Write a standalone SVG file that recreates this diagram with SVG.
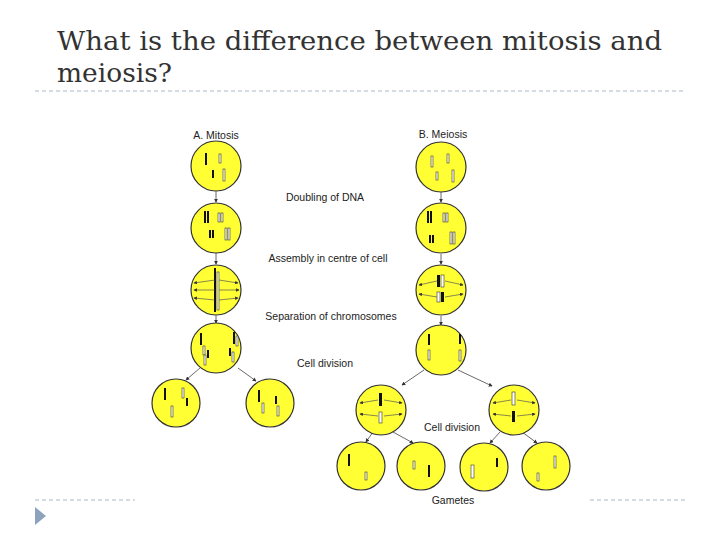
<svg xmlns="http://www.w3.org/2000/svg" width="720" height="540" viewBox="0 0 720 540">
<defs>
<marker id="ah" viewBox="0 0 6 6" refX="5" refY="3" markerWidth="5" markerHeight="5" orient="auto"><path d="M0,0 L6,3 L0,6 z" fill="#333"/></marker>
<style>
.cell{fill:#ffff33;stroke:#333;stroke-width:1.2}
.lb{font-family:"Liberation Sans",Arial,sans-serif;font-size:10.5px;fill:#222;text-anchor:middle}
.cn{stroke:#444;stroke-width:0.8;fill:none;marker-end:url(#ah)}
.sp{stroke:#555;stroke-width:0.7;fill:none;marker-end:url(#ah)}
.kb{fill:#111}
.kw{fill:#fff;stroke:#333;stroke-width:0.6}
.dash{stroke:#a9b7c6;stroke-width:1;stroke-dasharray:4,3}
</style>
</defs>
<rect width="720" height="540" fill="#fff"/>
<text x="57" y="50" font-family="DejaVu Serif,serif" font-size="26" fill="#333" textLength="605" lengthAdjust="spacingAndGlyphs">What is the difference between mitosis and</text>
<text x="57" y="82" font-family="DejaVu Serif,serif" font-size="26" fill="#333" textLength="115" lengthAdjust="spacingAndGlyphs">meiosis?</text>
<line class="dash" x1="35" y1="91" x2="685" y2="91"/>
<line class="dash" x1="35" y1="500" x2="135" y2="500"/>
<line class="dash" x1="590" y1="500" x2="685" y2="500"/>
<path d="M35,507 L46,516 L35,525 z" fill="#8da3bd"/>

<text class="lb" x="216" y="139">A. Mitosis</text>
<text class="lb" x="443" y="138">B. Meiosis</text>
<text class="lb" x="325" y="201">Doubling of DNA</text>
<text class="lb" x="328" y="262">Assembly in centre of cell</text>
<text class="lb" x="331" y="320">Separation of chromosomes</text>
<text class="lb" x="325" y="367">Cell division</text>
<text class="lb" x="452" y="431">Cell division</text>
<text class="lb" x="453" y="504">Gametes</text>

<g id="connectors">
<line class="cn" x1="216" y1="191" x2="216" y2="202"/>
<line class="cn" x1="216" y1="253" x2="216" y2="264"/>
<line class="cn" x1="216" y1="315" x2="216" y2="323"/>
<line class="cn" x1="200" y1="368" x2="186" y2="380"/>
<line class="cn" x1="238" y1="368" x2="256" y2="381"/>
<line class="cn" x1="441" y1="192" x2="441" y2="202"/>
<line class="cn" x1="441" y1="254" x2="441" y2="264"/>
<line class="cn" x1="441" y1="316" x2="441" y2="325"/>
<line class="cn" x1="424" y1="370" x2="402" y2="385"/>
<line class="cn" x1="458" y1="370" x2="492" y2="386"/>
<line class="cn" x1="373" y1="432" x2="366" y2="442"/>
<line class="cn" x1="393" y1="432" x2="413" y2="443"/>
<line class="cn" x1="500" y1="432" x2="490" y2="443"/>
<line class="cn" x1="522" y1="432" x2="537" y2="443"/>
</g>

<g id="m1"><circle class="cell" cx="216" cy="166" r="25"/><rect class="kb" x="205" y="153" width="2" height="12"/><rect class="kw" x="219" y="154" width="2" height="9"/><rect class="kb" x="212" y="170" width="2" height="8"/><rect class="kw" x="223" y="169" width="2" height="12"/></g>
<g id="m2"><circle class="cell" cx="216" cy="228" r="25"/><rect class="kb" x="204" y="211" width="2" height="12"/><rect class="kb" x="207" y="211" width="2" height="12"/><rect class="kw" x="218" y="213" width="2" height="9"/><rect class="kw" x="221" y="213" width="2" height="9"/><rect class="kb" x="209" y="230" width="2" height="8"/><rect class="kb" x="212" y="230" width="2" height="8"/><rect class="kw" x="225" y="228" width="2" height="12"/><rect class="kw" x="228" y="228" width="2" height="12"/></g>
<g id="m3"><circle class="cell" cx="216" cy="290" r="25"/><rect class="kb" x="214" y="268" width="2" height="44"/><rect class="kw" x="217" y="272" width="2" height="38"/><line class="sp" x1="215" y1="280" x2="194" y2="283"/><line class="sp" x1="215" y1="290" x2="194" y2="290"/><line class="sp" x1="215" y1="300" x2="194" y2="298"/><line class="sp" x1="219" y1="280" x2="238" y2="283"/><line class="sp" x1="219" y1="290" x2="239" y2="290"/><line class="sp" x1="219" y1="300" x2="238" y2="298"/></g>
<g id="m4"><circle class="cell" cx="216" cy="348" r="25"/><rect class="kb" x="200" y="333" width="2" height="12"/><rect class="kw" x="203" y="346" width="2" height="9"/><rect class="kb" x="207" y="350" width="2" height="8"/><rect class="kw" x="204" y="355" width="2" height="10"/><rect class="kb" x="233" y="332" width="2" height="12"/><rect class="kw" x="236" y="336" width="2" height="10"/><rect class="kb" x="229" y="348" width="2" height="8"/><rect class="kw" x="232" y="352" width="2" height="10"/></g>
<g id="m5"><circle class="cell" cx="176" cy="403" r="24"/><rect class="kb" x="164" y="388" width="2" height="12"/><rect class="kw" x="182" y="388" width="2" height="10"/><rect class="kb" x="186" y="398" width="2" height="8"/><rect class="kw" x="171" y="406" width="2" height="11"/></g>
<g id="m6"><circle class="cell" cx="270" cy="403" r="24"/><rect class="kb" x="258" y="390" width="2" height="12"/><rect class="kw" x="262" y="403" width="2" height="10"/><rect class="kb" x="275" y="396" width="2" height="8"/><rect class="kw" x="277" y="406" width="2" height="10"/></g>

<g id="e1"><circle class="cell" cx="441" cy="167" r="25"/><rect class="kw" x="431" y="156" width="2" height="11"/><rect class="kw" x="447" y="154" width="2" height="9"/><rect class="kw" x="436" y="172" width="2" height="8"/><rect class="kw" x="452" y="170" width="2" height="12"/></g>
<g id="e2"><circle class="cell" cx="441" cy="228" r="25"/><rect class="kb" x="427" y="211" width="2" height="12"/><rect class="kb" x="430" y="211" width="2" height="12"/><rect class="kw" x="443" y="213" width="2" height="9"/><rect class="kw" x="446" y="213" width="2" height="9"/><rect class="kb" x="429" y="235" width="2" height="8"/><rect class="kb" x="432" y="235" width="2" height="8"/><rect class="kw" x="450" y="232" width="2" height="12"/><rect class="kw" x="453" y="232" width="2" height="12"/></g>
<g id="e3"><circle class="cell" cx="441" cy="290" r="25"/><rect class="kb" x="437" y="275" width="3" height="12"/><rect class="kw" x="441" y="275" width="3" height="12"/><rect class="kw" x="437" y="292" width="3" height="10"/><rect class="kb" x="441" y="292" width="3" height="10"/><line class="sp" x1="437" y1="281" x2="419" y2="285"/><line class="sp" x1="437" y1="297" x2="419" y2="294"/><line class="sp" x1="445" y1="281" x2="463" y2="285"/><line class="sp" x1="445" y1="297" x2="463" y2="294"/></g>
<g id="e4"><circle class="cell" cx="441" cy="350" r="25"/><rect class="kb" x="428" y="334" width="2" height="11"/><rect class="kw" x="428" y="350" width="2" height="10"/><rect class="kb" x="459" y="334" width="2" height="10"/><rect class="kw" x="459" y="350" width="2" height="11"/></g>
<g id="e5"><circle class="cell" cx="381" cy="410" r="25"/><rect class="kb" x="379" y="393" width="3" height="13"/><rect class="kw" x="379" y="412" width="3" height="11"/><line class="sp" x1="378" y1="400" x2="360" y2="403"/><line class="sp" x1="384" y1="400" x2="402" y2="403"/><line class="sp" x1="378" y1="416" x2="360" y2="414"/><line class="sp" x1="384" y1="416" x2="402" y2="414"/></g>
<g id="e6"><circle class="cell" cx="514" cy="410" r="25"/><rect class="kw" x="512" y="392" width="3" height="13"/><rect class="kb" x="512" y="411" width="3" height="11"/><line class="sp" x1="511" y1="400" x2="493" y2="403"/><line class="sp" x1="517" y1="400" x2="535" y2="403"/><line class="sp" x1="511" y1="416" x2="493" y2="414"/><line class="sp" x1="517" y1="416" x2="535" y2="414"/></g>
<g id="g1"><circle class="cell" cx="361" cy="466" r="24"/><rect class="kb" x="348" y="454" width="2" height="12"/><rect class="kw" x="365" y="472" width="2" height="8"/></g>
<g id="g2"><circle class="cell" cx="421" cy="466" r="24"/><rect class="kw" x="413" y="461" width="2" height="8"/><rect class="kb" x="428" y="465" width="2" height="12"/></g>
<g id="g3"><circle class="cell" cx="484" cy="467" r="24"/><rect class="kw" x="471" y="465" width="3" height="13"/><rect class="kb" x="496" y="458" width="2" height="9"/></g>
<g id="g4"><circle class="cell" cx="546" cy="466" r="24"/><rect class="kw" x="554" y="456" width="2" height="12"/><rect class="kw" x="537" y="473" width="2" height="8"/></g>
</svg>
